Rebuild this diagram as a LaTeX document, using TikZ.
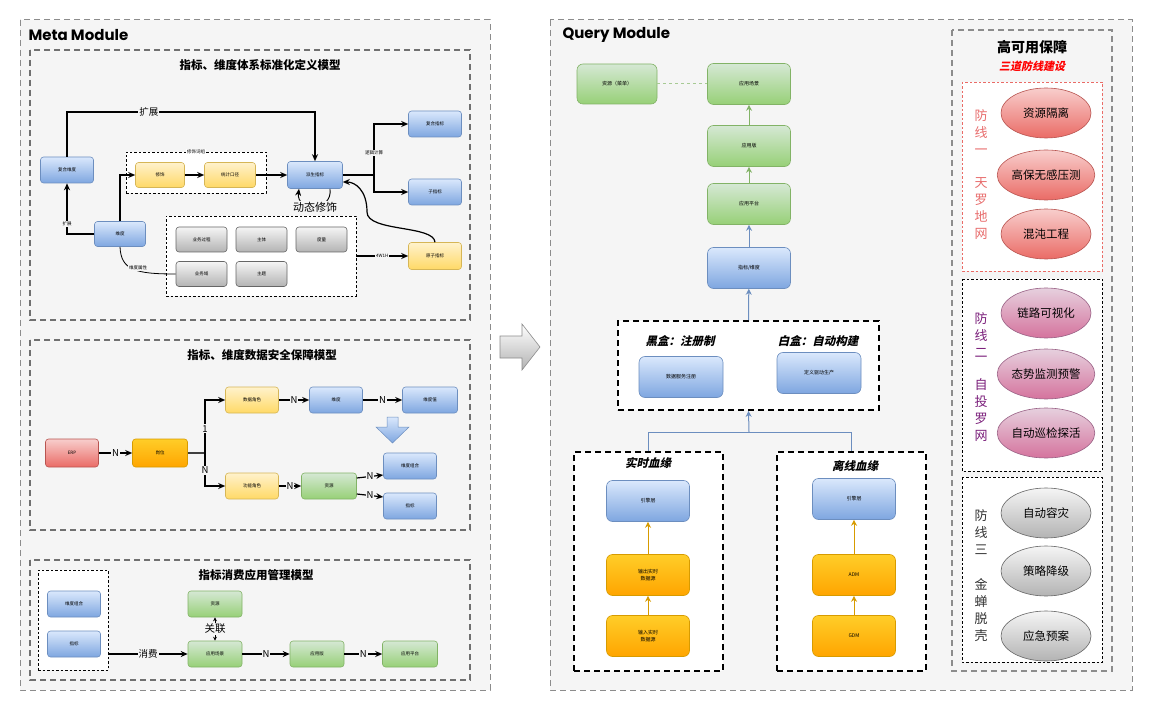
\documentclass[tikz,border=0pt]{standalone}
\usepackage{fontspec}
\setmainfont{Noto Sans CJK SC}
\newfontfamily\slantfont{Noto Sans CJK SC}[FakeSlant=0.22, BoldFeatures={FakeSlant=0.22}]
\newfontfamily\titlefont{Poppins}
\usetikzlibrary{arrows.meta,shapes.geometric}

\definecolor{panelgray}{HTML}{F5F5F5}
\definecolor{dashgray}{HTML}{8C8C8C}
\definecolor{bluetop}{HTML}{DAE8FC}
\definecolor{bluebot}{HTML}{7EA6E0}
\definecolor{blueline}{HTML}{6C8EBF}
\definecolor{yellowtop}{HTML}{FFF2CC}
\definecolor{yellowbot}{HTML}{FFD966}
\definecolor{yellowline}{HTML}{D6B656}
\definecolor{greentop}{HTML}{D5E8D4}
\definecolor{greenbot}{HTML}{97D077}
\definecolor{greenline}{HTML}{82B366}
\definecolor{orangetop}{HTML}{FFCD28}
\definecolor{orangebot}{HTML}{FFA500}
\definecolor{orangeline}{HTML}{D79B00}
\definecolor{redtop}{HTML}{F8CECC}
\definecolor{redbot}{HTML}{EA6B66}
\definecolor{redline}{HTML}{B85450}
\definecolor{pinktop}{HTML}{E6D0DE}
\definecolor{pinkbot}{HTML}{D5739D}
\definecolor{pinkline}{HTML}{996185}
\definecolor{graytop}{HTML}{F5F5F5}
\definecolor{graybot}{HTML}{B3B3B3}
\definecolor{grayline}{HTML}{666666}
\definecolor{lineone}{HTML}{E86C6C}
\definecolor{linetwo}{HTML}{7B1F7B}

\tikzset{
  box/.style={rounded corners=3pt, minimum width=53pt, minimum height=26pt, inner sep=1pt,
    align=center, line width=0.6pt, font=\fontsize{4.5}{5.5}\selectfont},
  bluebox/.style={box, draw=blueline, top color=bluetop, bottom color=bluebot},
  yellowbox/.style={box, draw=yellowline, top color=yellowtop, bottom color=yellowbot},
  greenbox/.style={box, draw=greenline, top color=greentop, bottom color=greenbot},
  orangebox/.style={box, draw=orangeline, top color=orangetop, bottom color=orangebot},
  redbox/.style={box, draw=redline, top color=redtop, bottom color=redbot},
  graybox/.style={box, minimum width=51pt, minimum height=25pt, draw=grayline, top color=graytop, bottom color=graybot},
  qbox/.style={box, rounded corners=6pt, minimum width=83pt, minimum height=41pt, font=\fontsize{5}{6.5}\selectfont},
  groupbox/.style={draw=black, fill=white, dash pattern=on 2.5pt off 2pt, line width=0.7pt},
  qgroup/.style={draw=black, fill=white, dash pattern=on 6pt off 4pt, line width=1.8pt},
  section/.style={draw=dashgray!80!black, fill=panelgray, dash pattern=on 6pt off 4pt, line width=1.5pt},
  sectitle/.style={font=\bfseries\fontsize{11.5}{12}\selectfont},
  qtitle/.style={font=\slantfont\bfseries\fontsize{11.5}{12}\selectfont},
  lbl/.style={fill=panelgray, inner sep=1pt, font=\fontsize{9.5}{10}\selectfont},
  tinylbl/.style={fill=panelgray, inner sep=0.8pt, font=\fontsize{4.5}{5}\selectfont},
  arr/.style={-{Stealth[length=7pt,width=6pt]}, line width=1.2pt},
  garr/.style={-{Stealth[length=6pt,width=6pt]}, line width=1pt, draw=greenline},
  barr/.style={-{Stealth[length=6pt,width=6pt]}, line width=1pt, draw=blueline},
  oarr/.style={-{Stealth[length=6pt,width=6pt]}, line width=0.9pt, draw=orangeline},
  defence/.style={ellipse, minimum width=90pt, minimum height=50pt, inner sep=0pt, line width=0.6pt,
    font=\fontsize{11.5}{12}\selectfont},
  vtext/.style={align=center, font=\fontsize{13}{17}\selectfont}
}

\begin{document}
\begin{tikzpicture}[x=1pt, y=-1pt]
\useasboundingbox (0,0) rectangle (1151,711);
\fill[white] (0,0) rectangle (1151,711);

% Meta Module
\draw[draw=dashgray, fill=panelgray, dash pattern=on 6pt off 4pt, line width=1pt] (20,20) rectangle (490,690);
\node[anchor=west, font=\titlefont\bfseries\fontsize{15}{16}\selectfont] (metatitle) at (25,35) {Meta Module};

% standard definition model
\draw[section] (30,50) rectangle (470,320);
\node[sectitle] (t1) at (260,65) {指标、维度体系标准化定义模型};
\node[groupbox, minimum width=140pt, minimum height=41pt] (modgrp) at (196,172.5) {};
\node[tinylbl, fill=white] at (modgrp.north) {修饰词组};
\node[groupbox, minimum width=190pt, minimum height=80pt] (attr) at (261,256) {};
\node[bluebox] (cdim) at (67,170) {复合维度};
\node[bluebox, minimum width=51pt, minimum height=25pt] (dim) at (120,234) {维度};
\node[yellowbox, minimum width=49pt, minimum height=25pt] (mod) at (160,175) {修饰};
\node[yellowbox, minimum width=51pt, minimum height=25pt] (stat) at (230,175) {统计口径};
\node[bluebox, minimum width=55pt, minimum height=27pt] (deriv) at (315,175) {派生指标};
\node[bluebox] (cind) at (435,124) {复合指标};
\node[bluebox] (sub) at (435,192) {子指标};
\node[yellowbox, minimum height=27pt] (atom) at (435,256) {原子指标};
\node[graybox] (proc) at (201.5,239.5) {业务过程};
\node[graybox] (subj) at (261.5,239.5) {主体};
\node[graybox] (meas) at (321.5,239.5) {度量};
\node[graybox] (dom) at (201.5,274) {业务域};
\node[graybox] (topic) at (261.5,274) {主题};

\draw[arr] (cdim.north) |- node[lbl, pos=0.665]{扩展} (315,112) -- (deriv.north);
\draw[arr] (dim.west) -| node[tinylbl, pos=0.6]{扩展} (cdim.south);
\draw[arr] (dim.north) |- (mod.west);
\draw[arr] (mod) -- (stat);
\draw[arr] (stat) -- (deriv);
\coordinate (split) at (374,175);
\draw[line width=1.5pt] (deriv.east) -- (split);
\draw[arr] (split) |- (cind.west);
\draw[arr] (split) |- (sub.west);
\node[tinylbl] (calc) at (374,153) {逻辑计算};
\draw[arr] (attr.east) -- node[tinylbl]{4W1H} (atom.west);
\draw[arr] (atom.north) .. controls (434,225) and (367,232) .. (367,212)
  .. controls (367,190) and (355,182) .. ([yshift=-7pt]deriv.east);
\draw[arr, line width=0.9pt] ([xshift=15pt]deriv.south) .. controls (333,212) and (296,212) .. ([xshift=-16pt]deriv.south);
\node[lbl, font=\fontsize{11}{12}\selectfont] (dyn) at (315,207) {动态修饰};
\draw[line width=0.8pt] (dim.south) .. controls (121,270) and (135,274) .. (dom.west);
\node[tinylbl] at (138,268) {维度属性};

% data security model
\draw[section] (30,340) rectangle (470,530);
\node[sectitle] (t2) at (262,355) {指标、维度数据安全保障模型};
\node[redbox, minimum height=28pt] (erp) at (72,453) {ERP};
\node[orangebox, minimum width=55pt, minimum height=28pt] (post) at (160,453) {岗位};
\node[yellowbox] (drole) at (252,400) {数据角色};
\node[yellowbox] (frole) at (252,486) {功能角色};
\node[bluebox] (dim2) at (336,400) {维度};
\node[bluebox, minimum width=55pt] (dval) at (430,400) {维度值};
\node[greenbox, minimum width=55pt] (res) at (329,486) {资源};
\node[bluebox] (dcomb) at (410,466) {维度组合};
\node[bluebox] (ind) at (410,506) {指标};
\draw[draw=blueline, top color=bluetop, bottom color=bluebot, line width=0.5pt]
  (387,417) -- (398,417) -- (398,427) -- (409,427) -- (392.5,443) -- (376,427) -- (387,427) -- cycle;

\draw[arr] (erp) -- node[lbl]{N} (post);
\coordinate (split2) at (205,453);
\draw[line width=1.2pt, draw=black!75] (post.east) -- (split2);
\draw[arr] (split2) |- node[lbl, pos=0.23]{1} (drole.west);
\draw[arr] (split2) |- node[lbl, pos=0.26]{N} (frole.west);
\draw[arr] (drole) -- node[lbl]{N} (dim2);
\draw[arr] (dim2) -- node[lbl]{N} (dval);
\draw[arr] (frole) -- node[lbl]{N} (res);
\draw[arr] ([yshift=8pt]res.east) -- node[lbl]{N} ([yshift=-9pt]dcomb.west);
\draw[arr] ([yshift=-8pt]res.east) -- node[lbl]{N} ([yshift=9pt]ind.west);

% consumption model
\draw[section] (30,560) rectangle (470,680);
\node[sectitle] (t3) at (256,575) {指标消费应用管理模型};
\node[groupbox, minimum width=70pt, minimum height=100pt] (cgrp) at (73,620) {};
\node[bluebox] (dcomb3) at (74,604) {维度组合};
\node[bluebox] (ind3) at (74,644) {指标};
\node[greenbox, minimum width=54pt] (res3) at (215,604) {资源};
\node[greenbox, minimum width=54pt] (scene) at (215,654) {应用场景};
\node[greenbox, minimum width=54pt] (ver) at (317,654) {应用版};
\node[greenbox, minimum width=55pt] (plat) at (410,654) {应用平台};
\draw[arr] (cgrp.east |- scene.west) -- node[lbl]{消费} (scene.west);
\draw[{Stealth[length=4pt,width=4pt]}-{Stealth[length=4pt,width=4pt]}, line width=0.8pt] (res3) -- node[lbl, font=\fontsize{10.5}{11}\selectfont]{关联} (scene);
\draw[arr] (scene) -- node[lbl]{N} (ver);
\draw[arr] (ver) -- node[lbl]{N} (plat);

% arrow between modules
\draw[draw=black!45, top color=white, bottom color=black!30, line width=0.6pt]
  (500,336) -- (522,336) -- (522,324) -- (540,347) -- (522,370) -- (522,358) -- (500,358) -- cycle;

% Query Module
\draw[draw=dashgray, fill=panelgray, dash pattern=on 6pt off 4pt, line width=1pt] (550,20) rectangle (1132,690);
\node[anchor=west, font=\titlefont\bfseries\fontsize{15}{16}\selectfont] (querytitle) at (559,35) {Query Module};

\node[qbox, minimum width=80pt, minimum height=40pt, draw=greenline, top color=greentop, bottom color=greenbot] (qres) at (617,84) {资源（菜单）};
\node[qbox, draw=greenline, top color=greentop, bottom color=greenbot] (qscene) at (749,84) {应用场景};
\node[qbox, draw=greenline, top color=greentop, bottom color=greenbot] (qver) at (749,146) {应用版};
\node[qbox, draw=greenline, top color=greentop, bottom color=greenbot] (qplat) at (749,204) {应用平台};
\node[qbox, draw=blueline, top color=bluetop, bottom color=bluebot] (qind) at (749,268) {指标/维度};
\draw[draw=greenline!70, dashed, line width=1pt] (qres) -- (qscene);
\draw[garr] (qver) -- (qscene);
\draw[garr] (qplat) -- (qver);
\draw[barr] (qind) -- (qplat);

\node[qgroup, minimum width=261pt, minimum height=89pt] (build) at (748.5,365.5) {};
\node[qtitle] (black) at (680,341) {黑盒：注册制};
\node[qtitle] (white) at (818,341) {白盒：自动构建};
\node[qbox, minimum width=84pt, draw=blueline, top color=bluetop, bottom color=bluebot] (reg) at (681,377) {数据服务注册};
\node[qbox, minimum width=84pt, draw=blueline, top color=bluetop, bottom color=bluebot] (gen) at (819,373) {定义驱动生产};
\draw[barr] (build.north) -- (qind);

\node[qgroup, minimum width=149pt, minimum height=219pt] (rt) at (648.5,561.5) {};
\node[qgroup, minimum width=149pt, minimum height=219pt] (off) at (851.5,561.5) {};
\node[qtitle] (rttitle) at (648,463) {实时血缘};
\node[qtitle] (offtitle) at (855,466) {离线血缘};
\node[qbox, draw=blueline, top color=bluetop, bottom color=bluebot] (eng1) at (648,501) {引擎层};
\node[qbox, draw=orangeline, top color=orangetop, bottom color=orangebot] (out1) at (648,575) {输出实时\\数据源};
\node[qbox, draw=orangeline, top color=orangetop, bottom color=orangebot] (in1) at (648,636) {输入实时\\数据源};
\node[qbox, draw=blueline, top color=bluetop, bottom color=bluebot] (eng2) at (854,499) {引擎层};
\node[qbox, draw=orangeline, top color=orangetop, bottom color=orangebot] (adm) at (854,575) {ADM};
\node[qbox, draw=orangeline, top color=orangetop, bottom color=orangebot] (gdm) at (854,636) {GDM};
\draw[oarr] (in1) -- (out1);
\draw[oarr] (out1) -- (eng1);
\draw[oarr] (gdm) -- (adm);
\draw[oarr] (adm) -- (eng2);
\coordinate (merge) at (749,432);
\draw[draw=blueline, line width=1pt] (rt.north) |- (off.north |- merge) -- (off.north);
\draw[barr] (merge) -- (build.south);

% high availability
\draw[draw=dashgray, fill=panelgray, dash pattern=on 6pt off 4pt, line width=1.5pt] (952,30) rectangle (1112,671);
\node[font=\bfseries\fontsize{14}{15}\selectfont] (hatitle) at (1032,47) {高可用保障};
\node[font=\slantfont\bfseries\fontsize{11}{12}\selectfont, text=red] (hasub) at (1032,66) {三道防线建设};

\draw[draw=redbot, fill=white, dash pattern=on 2.5pt off 2pt, line width=0.6pt] (962,82) rectangle (1102,271);
\node[vtext, text=lineone] (l1a) at (981,132) {防\\线\\一};
\node[vtext, text=lineone] (l1b) at (981,209) {天\\罗\\地\\网};
\node[defence, draw=redline, top color=redtop, bottom color=redbot] (iso) at (1046,113) {资源隔离};
\node[defence, draw=redline, top color=redtop, bottom color=redbot] (press) at (1046,175) {高保无感压测};
\node[defence, draw=redline, top color=redtop, bottom color=redbot] (chaos) at (1046,234) {混沌工程};

\draw[draw=black, fill=white, dash pattern=on 2.5pt off 2pt, line width=0.6pt] (962,279) rectangle (1102,471);
\node[vtext, text=linetwo] (l2a) at (981,335) {防\\线\\二};
\node[vtext, text=linetwo] (l2b) at (981,410) {自\\投\\罗\\网};
\node[defence, draw=pinkline, top color=pinktop, bottom color=pinkbot] (trace) at (1046,313) {链路可视化};
\node[defence, draw=pinkline, top color=pinktop, bottom color=pinkbot] (alarm) at (1046,374) {态势监测预警};
\node[defence, draw=pinkline, top color=pinktop, bottom color=pinkbot] (probe) at (1046,433) {自动巡检探活};

\draw[draw=black, fill=white, dash pattern=on 2.5pt off 2pt, line width=0.6pt] (962,477) rectangle (1102,662);
\node[vtext, text=black!80] (l3a) at (981,532) {防\\线\\三};
\node[vtext, text=black!80] (l3b) at (981,610) {金\\蝉\\脱\\壳};
\node[defence, draw=grayline, top color=graytop, bottom color=graybot] (failover) at (1046,513) {自动容灾};
\node[defence, draw=grayline, top color=graytop, bottom color=graybot] (degrade) at (1046,571) {策略降级};
\node[defence, draw=grayline, top color=graytop, bottom color=graybot] (plan) at (1046,636) {应急预案};
\end{tikzpicture}
\end{document}
